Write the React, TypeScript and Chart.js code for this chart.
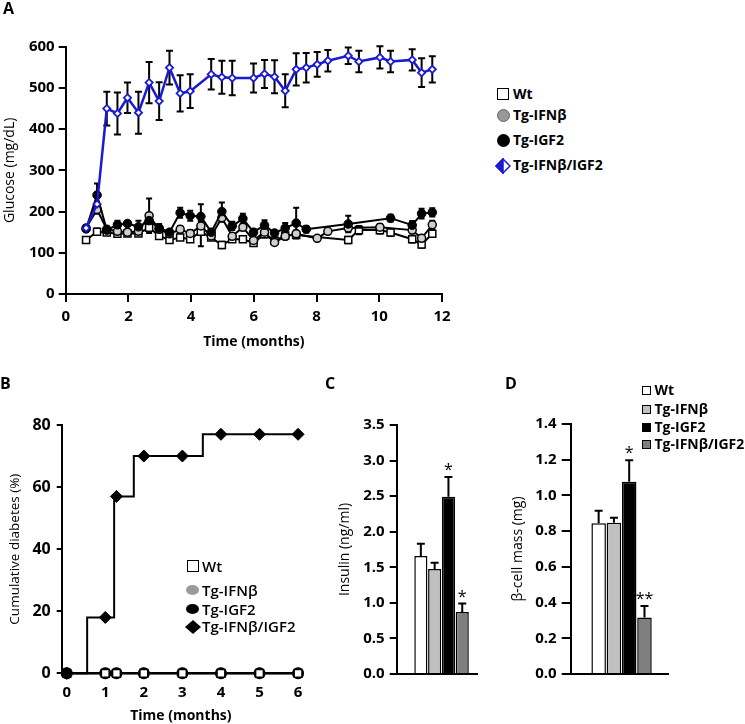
import React, { useEffect, useRef } from 'react';
import { Chart, registerables } from 'chart.js';

Chart.register(...registerables);

const FONT = "'Open Sans', 'DejaVu Sans', sans-serif";
Chart.defaults.font.family = FONT;
Chart.defaults.color = '#000';

// ---------------- Panel A : glucose over time ----------------
const BLUE = '#1a1ad2';
const aBlueTimes = [0.65, 1.0, 1.31, 1.65, 1.97, 2.32, 2.66, 2.98, 3.31, 3.65, 3.97, 4.64, 4.98, 5.31, 5.99, 6.34, 6.66, 7.0, 7.35, 7.67, 8.02, 8.36, 9.01, 9.35, 10.02, 10.36, 11.05, 11.35, 11.69];
const aBlueValues = [160, 218, 450, 438, 476, 440, 513, 468, 549, 487, 492, 533, 526, 524, 524, 534, 527, 493, 545, 549, 557, 566, 578, 564, 574, 564, 568, 537, 545];
const aBlueErr = [0, 0, 41, 51, 37, 51, 50, 46, 41, 44, 41, 37, 40, 42, 35, 34, 40, 40, 39, 36, 30, 26, 20, 26, 27, 26, 26, 35, 32];

const aWtTimes = [0.65, 1.0, 1.31, 1.65, 1.97, 2.32, 2.66, 2.98, 3.31, 3.65, 3.97, 4.31, 4.64, 4.98, 5.31, 5.65, 5.99, 6.34, 6.66, 7.0, 7.35, 9.01, 9.35, 10.02, 10.36, 11.05, 11.35, 11.69];
const aWtValues = [131, 151, 149, 146, 147, 147, 161, 141, 131, 137, 133, 151, 137, 119, 133, 133, 124, 145, 129, 142, 143, 131, 155, 155, 149, 133, 120, 146];
const aWtErr = [6, 8, 6, 6, 5, 5, 8, 6, 5, 6, 6, 35, 6, 8, 6, 6, 6, 8, 6, 8, 8, 8, 10, 8, 8, 8, 8, 8];

const aIfnTimes = [0.65, 1.0, 1.31, 1.65, 1.97, 2.32, 2.66, 2.98, 3.31, 3.65, 3.97, 4.31, 4.64, 4.98, 5.31, 5.65, 5.99, 6.34, 6.66, 7.0, 7.35, 8.02, 8.36, 9.01, 10.02, 11.05, 11.35, 11.69];
const aIfnValues = [160, 205, 157, 152, 150, 152, 190, 157, 146, 157, 147, 165, 141, 185, 140, 162, 130, 150, 125, 140, 146, 135, 152, 160, 162, 155, 135, 168];
const aIfnErr = [6, 10, 6, 6, 5, 6, 42, 8, 5, 8, 8, 12, 8, 10, 6, 8, 6, 8, 6, 8, 8, 6, 6, 8, 8, 8, 8, 10];

const aIgfTimes = [0.65, 1.0, 1.31, 1.65, 1.97, 2.32, 2.66, 2.98, 3.31, 3.65, 3.97, 4.31, 4.64, 4.98, 5.31, 5.65, 5.99, 6.34, 6.66, 7.0, 7.35, 7.67, 9.01, 10.36, 11.05, 11.35, 11.69];
const aIgfValues = [158, 240, 155, 168, 171, 163, 178, 160, 150, 197, 190, 188, 150, 200, 165, 183, 150, 167, 148, 160, 172, 157, 170, 184, 167, 195, 198];
const aIgfErr = [6, 28, 8, 10, 6, 15, 10, 10, 6, 12, 12, 30, 8, 22, 10, 12, 8, 12, 6, 12, 37, 8, 20, 8, 10, 12, 10];

const aTicksX = [0, 2, 4, 6, 8, 10, 12];
const aTicksY = [0, 100, 200, 300, 400, 500, 600];

// ---------------- Panel B : cumulative diabetes ----------------
const bMarkerTimes = [0, 1, 1.29, 2, 3, 4, 5, 6];
const bCombo = [0, 18, 57, 70, 70, 77, 77, 77];
const bWt = [0, 0, 0, 0, 0, 0, 0, 0];
const bIfn = [0, 0, 0, 0, 0, 0, 0, 0];
const bIgf = [0, 0, 0, 0, 0, 0, 0, 0];
const bStepTimes = [0, 0.53, 1.23, 1.74, 3.53, 6];
const bStepValues = [0, 18, 57, 70, 77, 77];
const bTicksX = [0, 1, 2, 3, 4, 5, 6];
const bTicksY = [0, 20, 40, 60, 80];

// ---------------- Panels C & D : bars ----------------
const groups = ['Wt', 'Tg-IFNβ', 'Tg-IGF2', 'Tg-IFNβ/IGF2'];
const groupColors = ['#ffffff', '#c0c0c0', '#000000', '#7f7f7f'];
const insulin = [1.66, 1.475, 2.49, 0.87];
const insulinErr = [0.17, 0.09, 0.28, 0.12];
const insulinStars = ['', '', '*', '*'];
const mass = [0.844, 0.847, 1.077, 0.317];
const massErr = [0.07, 0.028, 0.12, 0.064];
const massStars = ['', '', '*', '**'];
const cTicksY = [0, 0.5, 1.0, 1.5, 2.0, 2.5, 3.0, 3.5];
const dTicksY = [0, 0.2, 0.4, 0.6, 0.8, 1.0, 1.2, 1.4];

// ---------------- plugin: error bars + significance stars ----------------
const errorBarPlugin = {
  id: 'errorBars',
  beforeDatasetsDraw(chart: any) {
    const ctx = chart.ctx;
    chart.data.datasets.forEach((ds: any, i: number) => {
      if (!ds.errors) return;
      const meta = chart.getDatasetMeta(i);
      const ys = chart.scales[meta.yAxisID];
      ctx.save();
      ctx.strokeStyle = '#000';
      ctx.lineWidth = ds.errorLineWidth ?? 2;
      meta.data.forEach((el: any, j: number) => {
        const e = ds.errors[j];
        if (!e) return;
        const v = ds.data[j].y;
        const x = el.x;
        const top = ys.getPixelForValue(v + e);
        const bot = ds.errorUpOnly ? el.y : ys.getPixelForValue(v - e);
        const hw = (ds.capWidth ?? 6) / 2;
        ctx.beginPath();
        ctx.moveTo(x, top);
        ctx.lineTo(x, bot);
        ctx.moveTo(x - hw, top);
        ctx.lineTo(x + hw, top);
        if (!ds.errorUpOnly) {
          ctx.moveTo(x - hw, bot);
          ctx.lineTo(x + hw, bot);
        }
        ctx.stroke();
      });
      ctx.restore();
    });
  },
  afterDatasetsDraw(chart: any) {
    const ctx = chart.ctx;
    chart.data.datasets.forEach((ds: any, i: number) => {
      if (!ds.stars) return;
      const meta = chart.getDatasetMeta(i);
      const ys = chart.scales[meta.yAxisID];
      ctx.save();
      ctx.fillStyle = '#000';
      ctx.font = `16px ${FONT}`;
      ctx.textAlign = 'center';
      ctx.textBaseline = 'alphabetic';
      meta.data.forEach((el: any, j: number) => {
        const s = ds.stars[j];
        if (!s) return;
        const v = ds.data[j].y + (ds.errors ? ds.errors[j] : 0);
        const y = ys.getPixelForValue(v);
        ctx.fillText(s, el.x, y - 2);
      });
      ctx.restore();
    });
  },
};

const pts = (xs: number[], ys: number[]) => xs.map((x, i) => ({ x, y: ys[i] }));
const tickFont = { size: 15, weight: 'bold' as const };
const fixedTicks = (arr: number[]) => (s: any) => {
  s.ticks = arr.map((v) => ({ value: v }));
};

function configA(): any {
  return {
    type: 'line',
    data: {
      datasets: [
        {
          label: 'Tg-IFNβ/IGF2', data: pts(aBlueTimes, aBlueValues), errors: aBlueErr, capWidth: 7,
          borderColor: BLUE, borderWidth: 2.5, pointStyle: 'rectRot', pointRadius: 3.6,
          pointBackgroundColor: '#ffffff', pointBorderColor: BLUE, pointBorderWidth: 1.8, clip: false,
        },
        {
          label: 'Tg-IGF2', data: pts(aIgfTimes, aIgfValues), errors: aIgfErr, capWidth: 6,
          borderColor: '#000', borderWidth: 2, pointStyle: 'circle', pointRadius: 4.3,
          pointBackgroundColor: '#000', pointBorderColor: '#000', pointBorderWidth: 1, clip: false,
        },
        {
          label: 'Tg-IFNβ', data: pts(aIfnTimes, aIfnValues), errors: aIfnErr, capWidth: 6,
          borderColor: '#000', borderWidth: 2, pointStyle: 'circle', pointRadius: 4,
          pointBackgroundColor: '#cfcfcf', pointBorderColor: '#000', pointBorderWidth: 1.5, clip: false,
        },
        {
          label: 'Wt', data: pts(aWtTimes, aWtValues), errors: aWtErr, capWidth: 6,
          borderColor: '#000', borderWidth: 2, pointStyle: 'rect', pointRadius: 5,
          pointBackgroundColor: '#ffffff', pointBorderColor: '#000', pointBorderWidth: 1.5, clip: false,
        },
      ],
    },
    options: {
      animation: false,
      responsive: false,
      events: [],
      layout: { padding: { top: 46.7, right: 28, bottom: 9.6, left: 0 } },
      plugins: { legend: { display: false }, tooltip: { enabled: false } },
      scales: {
        x: {
          type: 'linear', min: 0, max: 12,
          afterFit: (s: any) => { s.height = 56.4; },
          afterBuildTicks: fixedTicks(aTicksX),
          ticks: { font: tickFont, padding: 6, color: '#000' },
          grid: { drawOnChartArea: false, color: '#000', lineWidth: 2, tickLength: 8 },
          border: { color: '#000', width: 2 },
          title: { display: true, text: 'Time (months)', color: '#000', font: { size: 14, weight: 'bold' }, padding: 0 },
        },
        y: {
          type: 'linear', min: 0, max: 600,
          afterFit: (s: any) => { s.width = 65.7; },
          afterBuildTicks: fixedTicks(aTicksY),
          ticks: { font: tickFont, padding: 4, color: '#000' },
          grid: { drawOnChartArea: false, color: '#000', lineWidth: 2, tickLength: 7 },
          border: { color: '#000', width: 2 },
          title: { display: true, text: 'Glucose (mg/dL)', color: '#000', font: { size: 14 }, padding: { top: 1.6, bottom: 0 } },
        },
      },
    },
    plugins: [errorBarPlugin],
  };
}

function configB(): any {
  return {
    type: 'line',
    data: {
      datasets: [
        {
          label: 'Tg-IFNβ/IGF2', data: pts(bMarkerTimes, bCombo), showLine: false,
          pointStyle: 'rectRot', pointRadius: 6, pointBackgroundColor: '#000', pointBorderColor: '#000', clip: false,
        },
        {
          label: 'Wt', data: pts(bMarkerTimes, bWt), borderColor: '#000', borderWidth: 2,
          pointStyle: 'rect', pointRadius: 5.5, pointBackgroundColor: '#fff', pointBorderColor: '#000', pointBorderWidth: 1.5, clip: false,
        },
        {
          label: 'Tg-IGF2', data: pts(bMarkerTimes, bIgf), borderColor: '#000', borderWidth: 2,
          pointStyle: 'circle', pointRadius: 5, pointBackgroundColor: '#000', pointBorderColor: '#000', clip: false,
        },
        {
          label: 'Tg-IFNβ', data: pts(bMarkerTimes, bIfn), borderColor: '#000', borderWidth: 2,
          pointStyle: 'circle', pointRadius: 5, pointBackgroundColor: '#999', pointBorderColor: '#999', clip: false,
        },
        {
          label: 'step', data: pts(bStepTimes, bStepValues), stepped: true, borderColor: '#000', borderWidth: 2,
          pointRadius: 0, clip: false,
        },
      ],
    },
    options: {
      animation: false,
      responsive: false,
      events: [],
      layout: { padding: { top: 65, right: 30, bottom: 0, left: 0 } },
      plugins: { legend: { display: false }, tooltip: { enabled: false } },
      scales: {
        x: {
          type: 'linear', min: -0.13, max: 6.05,
          afterFit: (s: any) => { s.height = 50.7; },
          afterBuildTicks: fixedTicks(bTicksX),
          ticks: { font: tickFont, padding: 10, color: '#000' },
          grid: { display: false, drawTicks: false },
          border: { color: '#000', width: 2 },
          title: { display: true, text: 'Time (months)', color: '#000', font: { size: 14, weight: 'bold' }, padding: 0 },
        },
        y: {
          type: 'linear', min: 0, max: 80,
          afterFit: (s: any) => { s.width = 61.7; },
          afterBuildTicks: fixedTicks(bTicksY),
          ticks: { font: { size: 16, weight: 'bold' }, padding: 6, color: '#000' },
          grid: { drawOnChartArea: false, color: '#000', lineWidth: 2, tickLength: 5 },
          border: { color: '#000', width: 2 },
          title: { display: true, text: 'Cumulative diabetes (%)', color: '#000', font: { size: 13.5 }, padding: { top: 7, bottom: 0 } },
        },
      },
    },
    plugins: [errorBarPlugin],
  };
}

function configBars(values: number[], errs: number[], stars: string[], ticksY: number[], max: number,
  title: string, xMin: number, xMax: number, axisW: number, padTop: number, padRight: number, titlePad: number, tickLen: number): any {
  return {
    type: 'bar',
    data: {
      datasets: [
        {
          label: title,
          data: values.map((v, i) => ({ x: i + 1, y: v })),
          backgroundColor: groupColors,
          borderColor: '#000',
          borderWidth: 1.5,
          barPercentage: 0.95,
          categoryPercentage: 1,
          errors: errs,
          errorUpOnly: true,
          capWidth: 8,
          stars,
        },
      ],
    },
    options: {
      animation: false,
      responsive: false,
      events: [],
      layout: { padding: { top: padTop, right: padRight, bottom: 40, left: 0 } },
      plugins: { legend: { display: false }, tooltip: { enabled: false } },
      scales: {
        x: {
          type: 'linear', min: xMin, max: xMax, offset: false,
          afterFit: (s: any) => { s.height = 10; },
          ticks: { display: false },
          grid: { display: false, drawTicks: false, offset: false },
          border: { color: '#000', width: 2 },
        },
        y: {
          type: 'linear', min: 0, max,
          afterFit: (s: any) => { s.width = axisW; },
          afterBuildTicks: fixedTicks(ticksY),
          ticks: { font: tickFont, padding: 5, color: '#000', callback: (v: any) => Number(v).toFixed(1) },
          grid: { drawOnChartArea: false, color: '#000', lineWidth: 2, tickLength: tickLen },
          border: { color: '#000', width: 2 },
          title: { display: true, text: title, color: '#000', font: { size: 14 }, padding: { top: titlePad, bottom: 0 } },
        },
      },
    },
    plugins: [errorBarPlugin],
  };
}

function ChartCanvas(props: { make: () => any; left: number; top: number; width: number; height: number }) {
  const ref = useRef<HTMLCanvasElement>(null);
  useEffect(() => {
    const chart = new Chart(ref.current as HTMLCanvasElement, props.make());
    return () => chart.destroy();
  }, []);
  return (
    <canvas
      ref={ref}
      width={props.width}
      height={props.height}
      style={{ position: 'absolute', left: props.left, top: props.top, width: props.width, height: props.height }}
    />
  );
}

const abs = (left: number, top: number, extra: any = {}): any => ({ position: 'absolute', left, top, ...extra });

function Marker({ kind, cx, cy }: { kind: string; cx: number; cy: number }) {
  switch (kind) {
    case 'sq':
      return <div style={abs(cx - 6, cy - 6, { width: 12, height: 12, boxSizing: 'border-box', border: '1.5px solid #000', background: '#fff' })} />;
    case 'greyCircle':
      return <div style={abs(cx - 6.5, cy - 6.5, { width: 13, height: 13, boxSizing: 'border-box', borderRadius: '50%', border: '1px solid #666', background: '#999' })} />;
    case 'blackCircle':
      return <div style={abs(cx - 6.5, cy - 6.5, { width: 13, height: 13, borderRadius: '50%', background: '#000' })} />;
    case 'halfDiamond':
      return (
        <svg style={abs(cx - 8, cy - 8)} width={16} height={16}>
          <polygon points="8,1 15,8 8,15 1,8" fill="#fff" stroke={BLUE} strokeWidth={1.5} />
          <polygon points="8,1 8,15 1,8" fill={BLUE} stroke={BLUE} strokeWidth={1.5} />
        </svg>
      );
    case 'greyEllipse':
      return <div style={abs(cx - 6.5, cy - 5, { width: 13, height: 10, borderRadius: '50%', background: '#9a9a9a' })} />;
    case 'blackEllipse':
      return <div style={abs(cx - 6.5, cy - 5, { width: 13, height: 10, borderRadius: '50%', background: '#000' })} />;
    case 'blackDiamond':
      return (
        <svg style={abs(cx - 8, cy - 7)} width={16} height={14}>
          <polygon points="8,0 16,7 8,14 0,7" fill="#000" />
        </svg>
      );
    default:
      return null;
  }
}

const legendA = { markerX: 503, textX: 513, rows: [94, 115.5, 140, 165.5], kinds: ['sq', 'greyCircle', 'blackCircle', 'halfDiamond'] };
const legendB = { markerX: 192.5, textX: 202, rows: [566, 590, 609, 626.5], kinds: ['sq', 'greyEllipse', 'blackEllipse', 'blackDiamond'] };
const legendD = { markerX: 646.2, textX: 654.5, rows: [390.5, 409, 427, 444.5] };

export default function App() {
  const textBase: any = { fontFamily: FONT, color: '#000', whiteSpace: 'nowrap', lineHeight: '18px' };
  return (
    <div style={{ position: 'fixed', left: 0, top: 0, width: 745, height: 724, background: '#fff', overflow: 'hidden' }}>
      <ChartCanvas make={configA} left={0} top={0} width={470} height={360} />
      <ChartCanvas make={configB} left={0} top={360} width={330} height={364} />
      <ChartCanvas
        make={() => configBars(insulin, insulinErr, insulinStars, cTicksY, 3.5, 'Insulin (ng/ml)', -0.75, 5.12, 66.7, 65, 12.3, 6.6, 7)}
        left={330} top={360} width={160} height={364}
      />
      <ChartCanvas
        make={() => configBars(mass, massErr, massStars, dTicksY, 1.4, 'β-cell mass (mg)', -0.83, 5.56, 80.7, 64, 76.7, 19.6, 9)}
        left={490} top={360} width={255} height={364}
      />

      {/* panel letters */}
      {[['A', 3, -0.5], ['B', 0, 375], ['C', 325, 375], ['D', 505, 375]].map(([t, l, tp]) => (
        <div key={t as string} style={abs(l as number, tp as number, { ...textBase, fontWeight: 700, fontSize: 16, lineHeight: '16px' })}>{t}</div>
      ))}

      {/* legend A */}
      {groups.map((g, i) => (
        <React.Fragment key={'a' + g}>
          <Marker kind={legendA.kinds[i]} cx={legendA.markerX} cy={legendA.rows[i]} />
          <div style={abs(legendA.textX, legendA.rows[i] - 9.5, { ...textBase, fontWeight: 700, fontSize: 14 })}>{g}</div>
        </React.Fragment>
      ))}

      {/* legend B */}
      {groups.map((g, i) => (
        <React.Fragment key={'b' + g}>
          <Marker kind={legendB.kinds[i]} cx={legendB.markerX} cy={legendB.rows[i]} />
          <div style={abs(legendB.textX, legendB.rows[i] - 9.5, { ...textBase, fontWeight: 600, fontSize: 15 })}>{g}</div>
        </React.Fragment>
      ))}

      {/* legend D */}
      {groups.map((g, i) => (
        <React.Fragment key={'d' + g}>
          <div style={abs(legendD.markerX - 4.5, legendD.rows[i] - 4.5, { width: 9, height: 9, boxSizing: 'border-box', border: '1px solid #000', background: groupColors[i] })} />
          <div style={abs(legendD.textX, legendD.rows[i] - 9.5, { ...textBase, fontWeight: 700, fontSize: 14 })}>{g}</div>
        </React.Fragment>
      ))}
    </div>
  );
}
